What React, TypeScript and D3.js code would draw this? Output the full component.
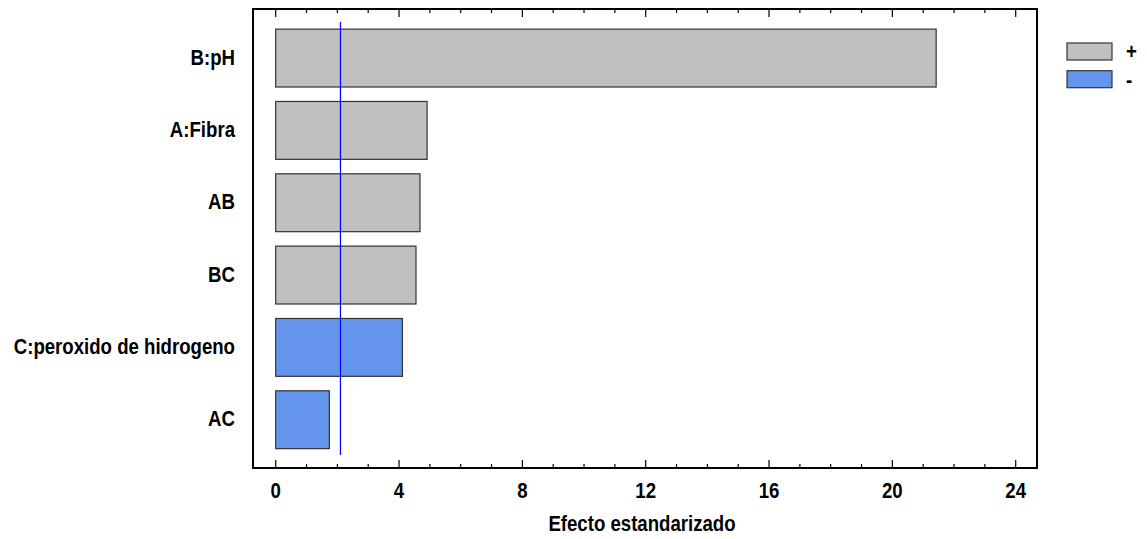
import React, { useEffect, useRef } from "react";
import * as d3 from "d3";

const factors = ["B:pH", "A:Fibra", "AB", "BC", "C:peroxido de hidrogeno", "AC"];
const effects = [21.42, 4.91, 4.68, 4.55, 4.11, 1.74];
const signs = ["+", "+", "+", "+", "-", "-"];
const xTicks = [0, 4, 8, 12, 16, 20, 24];
const criticalValue = 2.1;
const legendItems = ["+", "-"];

const FONT = "'Liberation Sans', Arial, sans-serif";
const colors: Record<string, string> = { "+": "#c0c0c0", "-": "#6495ed" };
// narrow look: squeeze bold Liberation Sans horizontally
const SQUEEZE = 0.81;
const FS = 23;

function App() {
  const ref = useRef<SVGSVGElement>(null);
  const width = 1147;
  const height = 539;

  useEffect(() => {
    const svg = d3.select(ref.current);
    svg.selectAll("*").remove();

    const frame = { left: 253, top: 9, right: 1037, bottom: 468 };

    const x = d3.scaleLinear().domain([0, 24]).range([275.7, 1015.7]);
    const y = d3
      .scaleBand()
      .domain(factors)
      .range([21.9, 455.9])
      .paddingInner(0.2)
      .paddingOuter(0.1);

    const addText = (tx: number, ty: number, s: string, anchor: string) =>
      svg
        .append("text")
        .attr("transform", `translate(${tx},${ty}) scale(${SQUEEZE},1)`)
        .attr("text-anchor", anchor)
        .attr("font-family", FONT)
        .attr("font-weight", "bold")
        .attr("font-size", FS)
        .attr("fill", "#000")
        .text(s);

    // frame
    svg
      .append("rect")
      .attr("x", frame.left)
      .attr("y", frame.top)
      .attr("width", frame.right - frame.left)
      .attr("height", frame.bottom - frame.top)
      .attr("fill", "none")
      .attr("stroke", "#000")
      .attr("stroke-width", 2);

    // ticks top and bottom (pointing inward)
    d3.range(0, 25, 1).forEach((v) => {
      const len = v % 4 === 0 ? 8 : 4;
      svg
        .append("line")
        .attr("x1", x(v)).attr("x2", x(v))
        .attr("y1", frame.bottom).attr("y2", frame.bottom - len)
        .attr("stroke", "#000").attr("stroke-width", 1.2);
      svg
        .append("line")
        .attr("x1", x(v)).attr("x2", x(v))
        .attr("y1", frame.top).attr("y2", frame.top + len)
        .attr("stroke", "#000").attr("stroke-width", 1.2);
    });

    // tick labels
    xTicks.forEach((t) => addText(x(t), 498, String(t), "middle"));

    // bars
    svg
      .selectAll(".bar")
      .data(factors)
      .join("rect")
      .attr("x", x(0))
      .attr("y", (d) => y(d)!)
      .attr("width", (d, i) => x(effects[i]) - x(0))
      .attr("height", y.bandwidth())
      .attr("fill", (d, i) => colors[signs[i]])
      .attr("stroke", "#333")
      .attr("stroke-width", 1.2);

    // factor labels
    factors.forEach((f) => addText(235, y(f)! + y.bandwidth() / 2 + 6.5, f, "end"));

    // critical value line
    svg
      .append("line")
      .attr("x1", x(criticalValue)).attr("x2", x(criticalValue))
      .attr("y1", 22).attr("y2", 455)
      .attr("stroke", "#0000ff")
      .attr("stroke-width", 1.2);

    // axis title
    addText(642, 531, "Efecto estandarizado", "middle");

    // legend
    legendItems.forEach((s, i) => {
      svg
        .append("rect")
        .attr("x", 1067)
        .attr("y", 43 + i * 27.7)
        .attr("width", 45)
        .attr("height", 17)
        .attr("fill", colors[s])
        .attr("stroke", "#333")
        .attr("stroke-width", 1.2);
      addText(1126, 59 + i * 27.7, s, "start");
    });
  }, []);

  return (
    <svg
      ref={ref}
      width={width}
      height={height}
      style={{ position: "absolute", left: 0, top: 0, background: "#fff" }}
    ></svg>
  );
}

export default App;
